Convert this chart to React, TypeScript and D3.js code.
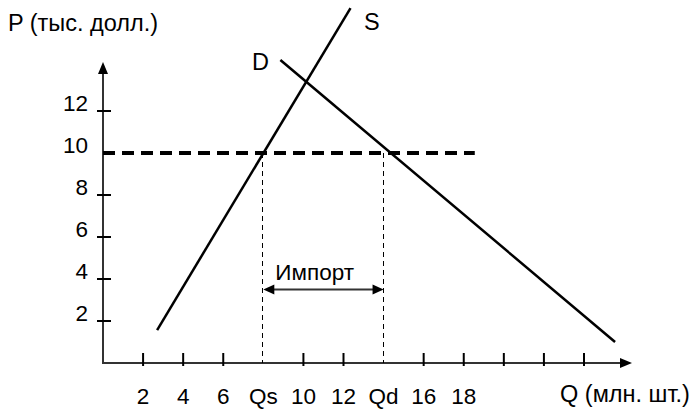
import React from "react";
import * as d3 from "d3";

// ---- data ----
const supplyLine = [
  { q: 2.7, p: 1.57 },
  { q: 12.35, p: 16.9 },
];
const demandLine = [
  { q: 8.85, p: 14.43 },
  { q: 25.55, p: 1.0 },
];
const worldPrice = 10;
const qs = 8;
const qd = 14;
const importArrowP = 3.5;
const xTickValues = [2, 4, 6, 10, 12, 16, 18, 20, 22, 24];
const xLabelValues = [2, 4, 6, 8, 10, 12, 14, 16, 18];
const xLabelTexts = ["2", "4", "6", "Qs", "10", "12", "Qd", "16", "18"];
const yTickValues = [2, 4, 6, 8, 12];
const yLabelValues = [2, 4, 6, 8, 10, 12];
const yLabelTexts = ["2", "4", "6", "8", "10", "12"];
const priceLineEnd = 18.55;

const W = 696;
const H = 409;
const FONT = "'Liberation Sans', Arial, sans-serif";

export default function App() {
  const x = d3.scaleLinear().domain([0, 24]).range([103, 584]);
  const y = d3.scaleLinear().domain([0, 12]).range([363, 111]);
  const line = d3
    .line<{ q: number; p: number }>()
    .x((d) => x(d.q))
    .y((d) => y(d.p));

  const x0 = x(0);
  const y0 = y(0);
  const axisColor = "#333";
  const crisp = (v: number) => Math.round(v) - 0.5;

  return (
    <svg
      width={W}
      height={H}
      style={{ position: "absolute", left: 0, top: 0, background: "#fff" }}
    >
      {/* axes */}
      <line x1={x0} y1={y0} x2={x0} y2={70} stroke={axisColor} strokeWidth={2} />
      <path d={`M${x0},62 L${x0 - 5},74 L${x0 + 5},74 Z`} fill="#000" />
      <line x1={x0 - 1} y1={y0} x2={622} y2={y0} stroke={axisColor} strokeWidth={2} />
      <path d={`M632,${y0} L620,${y0 - 5} L620,${y0 + 5} Z`} fill="#000" />

      {/* y ticks */}
      {yTickValues.map((v) => (
        <line key={"yt" + v} x1={x0 - 6} x2={x0 + 8} y1={y(v)} y2={y(v)} stroke="#000" strokeWidth={2} />
      ))}
      {yLabelValues.map((v, i) => (
        <text key={"yl" + v} x={88} y={y(v)} textAnchor="end" fontFamily={FONT} fontSize={22.5} fill="#000">
          {yLabelTexts[i]}
        </text>
      ))}

      {/* x ticks */}
      {xTickValues.map((v) => (
        <line key={"xt" + v} x1={x(v)} x2={x(v)} y1={y0 - 10} y2={y0 + 3} stroke="#000" strokeWidth={2} />
      ))}
      {xLabelValues.map((v, i) => (
        <text key={"xl" + v} x={x(v)} y={404} textAnchor="middle" fontFamily={FONT} fontSize={22.5} fill="#000">
          {xLabelTexts[i]}
        </text>
      ))}

      {/* world price dashed line */}
      <line
        x1={x0}
        x2={x(priceLineEnd)}
        y1={y(worldPrice)}
        y2={y(worldPrice)}
        stroke="#000"
        strokeWidth={4}
        strokeDasharray="12 7"
      />

      {/* Qs / Qd verticals */}
      {[qs, qd].map((v) => (
        <line
          key={"qv" + v}
          x1={crisp(x(v))}
          x2={crisp(x(v))}
          y1={y(worldPrice)}
          y2={y0}
          stroke="#000"
          strokeWidth={1}
          strokeDasharray="5 4"
        />
      ))}

      {/* supply & demand */}
      <path d={line(supplyLine) || ""} stroke="#000" strokeWidth={2.5} fill="none" />
      <path d={line(demandLine) || ""} stroke="#000" strokeWidth={2.5} fill="none" />

      {/* import arrow */}
      <line
        x1={x(qs) + 8}
        x2={x(qd) - 8}
        y1={y(importArrowP)}
        y2={y(importArrowP)}
        stroke="#333"
        strokeWidth={2}
      />
      <path
        d={`M${x(qs)},${y(importArrowP)} L${x(qs) + 11},${y(importArrowP) - 5} L${x(qs) + 11},${y(importArrowP) + 5} Z`}
        fill="#000"
      />
      <path
        d={`M${x(qd)},${y(importArrowP)} L${x(qd) - 11},${y(importArrowP) - 5} L${x(qd) - 11},${y(importArrowP) + 5} Z`}
        fill="#000"
      />
      <text x={x(qs) + 12} y={y(importArrowP) - 10} fontFamily={FONT} fontSize={22.5} fill="#000">
        Импорт
      </text>

      {/* labels */}
      <text x={8} y={31} fontFamily={FONT} fontSize={23.5} fill="#000">
        P (тыс. долл.)
      </text>
      <text x={560} y={402} fontFamily={FONT} fontSize={23.5} fill="#000">
        Q (млн. шт.)
      </text>
      <text x={364} y={30} fontFamily={FONT} fontSize={23.5} fill="#000">
        S
      </text>
      <text x={252} y={70} fontFamily={FONT} fontSize={23.5} fill="#000">
        D
      </text>
    </svg>
  );
}
